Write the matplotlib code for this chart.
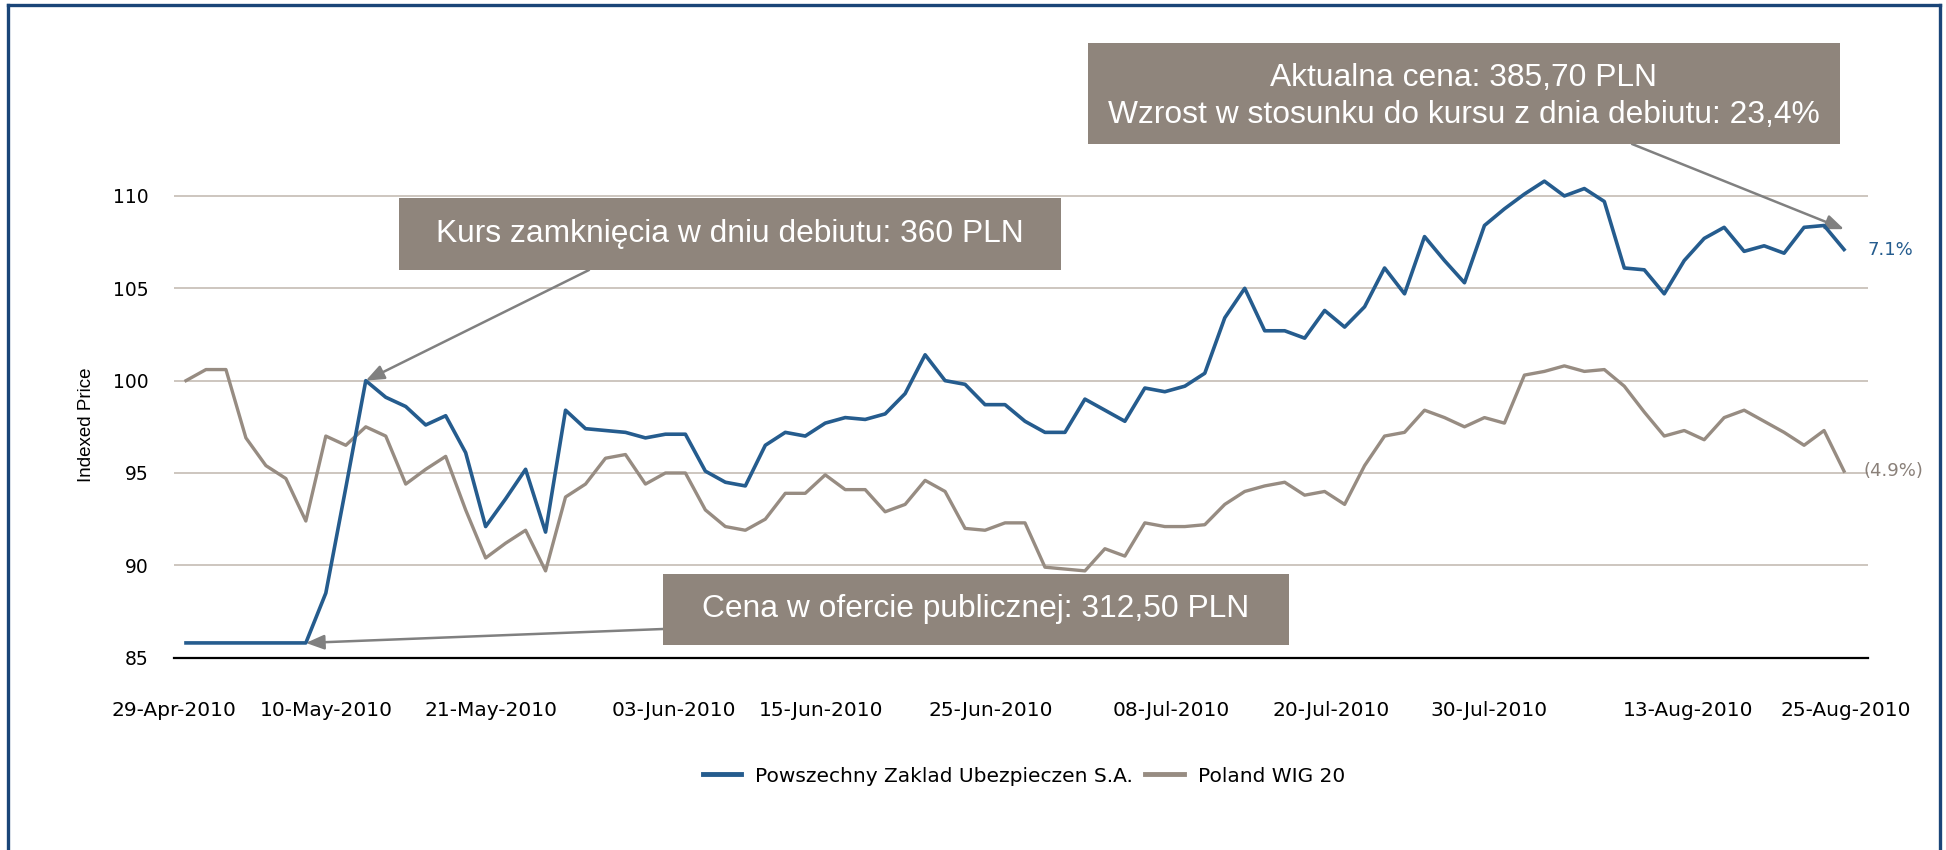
import matplotlib
matplotlib.use("Agg")
import matplotlib.pyplot as plt
import numpy as np
from matplotlib import font_manager
from matplotlib.lines import Line2D
from matplotlib.patches import Rectangle

# indexed prices, one value per trading day from 29-Apr-2010
pzu = [85.8, 85.8, 85.8, 85.8, 85.8, 85.8, 85.8, 88.5, 94.2, 100.0,
       99.1, 98.6, 97.6, 98.1, 96.1, 92.1, 93.6, 95.2, 91.8, 98.4,
       97.4, 97.3, 97.2, 96.9, 97.1, 97.1, 95.1, 94.5, 94.3, 96.5,
       97.2, 97.0, 97.7, 98.0, 97.9, 98.2, 99.3, 101.4, 100.0, 99.8,
       98.7, 98.7, 97.8, 97.2, 97.2, 99.0, 98.4, 97.8, 99.6, 99.4,
       99.7, 100.4, 103.4, 105.0, 102.7, 102.7, 102.3, 103.8, 102.9, 104.0,
       106.1, 104.7, 107.8, 106.5, 105.3, 108.4, 109.3, 110.1, 110.8, 110.0,
       110.4, 109.7, 106.1, 106.0, 104.7, 106.5, 107.7, 108.3, 107.0, 107.3,
       106.9, 108.3, 108.4, 107.1]
wig20 = [100.0, 100.6, 100.6, 96.9, 95.4, 94.7, 92.4, 97.0, 96.5, 97.5,
         97.0, 94.4, 95.2, 95.9, 93.0, 90.4, 91.2, 91.9, 89.7, 93.7,
         94.4, 95.8, 96.0, 94.4, 95.0, 95.0, 93.0, 92.1, 91.9, 92.5,
         93.9, 93.9, 94.9, 94.1, 94.1, 92.9, 93.3, 94.6, 94.0, 92.0,
         91.9, 92.3, 92.3, 89.9, 89.8, 89.7, 90.9, 90.5, 92.3, 92.1,
         92.1, 92.2, 93.3, 94.0, 94.3, 94.5, 93.8, 94.0, 93.3, 95.4,
         97.0, 97.2, 98.4, 98.0, 97.5, 98.0, 97.7, 100.3, 100.5, 100.8,
         100.5, 100.6, 99.7, 98.3, 97.0, 97.3, 96.8, 98.0, 98.4, 97.8,
         97.2, 96.5, 97.3, 95.1]

tick_pos = [-0.6, 7.0, 15.25, 24.4, 31.8, 40.3, 49.3, 57.3, 65.25, 75.2, 83.1]
tick_labels = ["29-Apr-2010", "10-May-2010", "21-May-2010", "03-Jun-2010",
               "15-Jun-2010", "25-Jun-2010", "08-Jul-2010", "20-Jul-2010",
               "30-Jul-2010", "13-Aug-2010", "25-Aug-2010"]
y_ticks = [85, 90, 95, 100, 105, 110]
series_names = ["Powszechny Zaklad Ubezpieczen S.A.", "Poland WIG 20"]
end_labels = ["7.1%", "(4.9%)"]
debut_idx = 9
ipo_idx = 6

BLUE = "#255c8e"
TAUPE = "#978c82"
BOX = "#8f857c"
GRID = "#cdc6bf"
ARROW = "#808080"
FRAME = "#1a4578"

W, H = 1946, 850


def pick_font(*names):
    for name in names:
        try:
            font_manager.findfont(name, fallback_to_default=False)
            return name
        except ValueError:
            pass
    return "DejaVu Sans"


arial = pick_font("Liberation Sans", "Arial")
narrow = pick_font("Liberation Sans Narrow", "Arial Narrow", "Liberation Sans")
wide = "DejaVu Sans"


def fx(px):
    return px / W


def fy(py):
    return 1 - py / H


fig = plt.figure(figsize=(W / 100, H / 100), dpi=100)
ax = fig.add_axes([fx(174), fy(657.7), fx(1868 - 174), (657.7 - 159) / H])

x = np.arange(len(pzu))
ax.plot(x, wig20, color=TAUPE, lw=2.4, zorder=3)
ax.plot(x, pzu, color=BLUE, lw=2.6, zorder=4)

ax.set_xlim(-0.385, 84.2)
ax.set_ylim(85, 112)
ax.set_yticks(y_ticks)
ax.set_xticks(tick_pos, tick_labels)
ax.yaxis.grid(True, color=GRID, lw=1.4)
ax.set_axisbelow(True)
for side in ("top", "left", "right"):
    ax.spines[side].set_visible(False)
ax.spines["bottom"].set_color("black")
ax.spines["bottom"].set_linewidth(1.6)
ax.tick_params(axis="both", length=0, labelcolor="black")
ax.tick_params(axis="y", pad=18, labelsize=13.5)
ax.tick_params(axis="x", pad=31, labelsize=14.5)
for lab in ax.get_xticklabels() + ax.get_yticklabels():
    lab.set_fontfamily(wide)

label_size = 15 if narrow != arial else 13.5
fig.text(fx(86.7), fy(425), "Indexed Price", rotation=90, ha="center", va="center",
         fontsize=label_size, family=narrow)

# end-of-series percentage labels
ax.annotate(end_labels[0], xy=(x[-1], pzu[-1]), xytext=(17, 0), textcoords="offset points",
            ha="left", va="center", color=BLUE, fontsize=13, family=wide)
ax.annotate(end_labels[1], xy=(x[-1], wig20[-1]), xytext=(14, 0), textcoords="offset points",
            ha="left", va="center", color="#8a8079", fontsize=13, family=wide)


# callout boxes
def callout(x0, y0, x1, y1, lines, centers):
    fig.add_artist(Rectangle((fx(x0), fy(y1)), fx(x1 - x0), (y1 - y0) / H,
                             transform=fig.transFigure, facecolor=BOX, edgecolor="none", zorder=5))
    for text, cy in zip(lines, centers):
        fig.text(fx((x0 + x1) / 2), fy(cy), text, ha="center", va="center", color="white",
                 fontsize=22.9, family=arial, zorder=6)


callout(399, 198, 1061, 270, ["Kurs zamknięcia w dniu debiutu: 360 PLN"], [234])
callout(663, 574, 1289, 645, ["Cena w ofercie publicznej: 312,50 PLN"], [609.5])
callout(1088, 43, 1840, 144, ["Aktualna cena: 385,70 PLN",
                              "Wzrost w stosunku do kursu z dnia debiutu: 23,4%"], [78, 115])

arrow = dict(arrowstyle="-|>,head_length=0.55,head_width=0.22", color=ARROW, lw=1.8,
             shrinkA=0, shrinkB=0, mutation_scale=20)
ax.annotate("", xy=(debut_idx, pzu[debut_idx]), xytext=(fx(589), fy(270)),
            textcoords="figure fraction", arrowprops=arrow, annotation_clip=False)
ax.annotate("", xy=(ipo_idx, pzu[ipo_idx]), xytext=(fx(663), fy(629)),
            textcoords="figure fraction", arrowprops=arrow, annotation_clip=False)
ax.annotate("", xy=(x[-1], 108.2), xytext=(fx(1632), fy(144)),
            textcoords="figure fraction", arrowprops=arrow, annotation_clip=False)

handles = [Line2D([], [], color=BLUE, lw=3.5), Line2D([], [], color=TAUPE, lw=3.5)]
fig.legend(handles, series_names, loc="center", bbox_to_anchor=(fx(1024), fy(776)), ncol=2,
           frameon=False, prop={"family": wide, "size": 14.5}, handlelength=1.9,
           handletextpad=0.7, columnspacing=0.6)

# outer frame
for xs, ys in (([fx(8), fx(8)], [0, fy(5)]), ([fx(1940), fx(1940)], [0, fy(5)]),
               ([fx(8), fx(1940)], [fy(5), fy(5)])):
    fig.add_artist(Line2D(xs, ys, transform=fig.transFigure, color=FRAME, lw=2.4))

fig.savefig("out.png", dpi=100)
